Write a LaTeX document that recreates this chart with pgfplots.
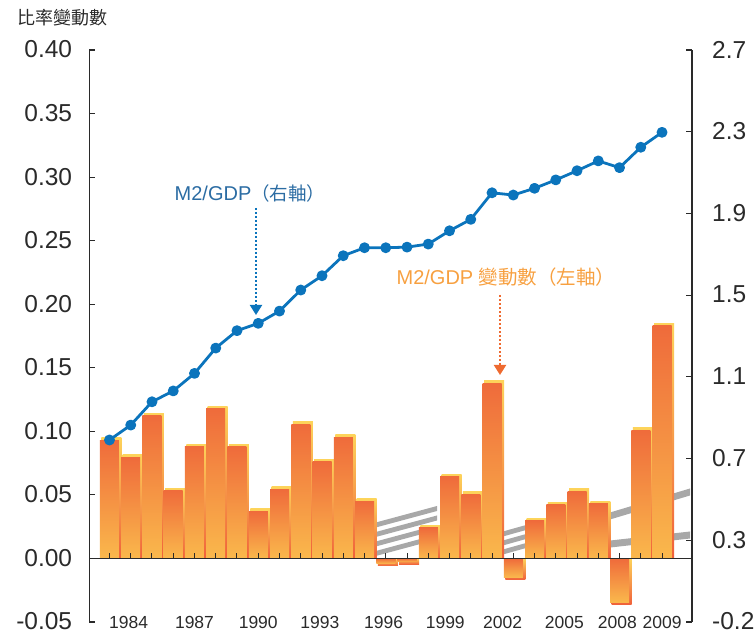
\documentclass[border=0pt]{standalone}
\usepackage{pgfplots}
\usepackage{pgfplotstable}
\pgfplotsset{compat=1.18}
\usetikzlibrary{arrows.meta}
\usepackage{fontspec}
\setmainfont{Liberation Sans}
\newfontfamily\cjk{Noto Sans CJK TC}
\definecolor{barTop}{HTML}{EF6B3B}
\definecolor{barBot}{HTML}{FAB84C}
\definecolor{sideTop}{HTML}{FDD35A}
\definecolor{sideBot}{HTML}{F0603A}
\definecolor{lineBlue}{HTML}{0B74BC}
\definecolor{txtBlue}{HTML}{2B6CA3}
\definecolor{txtOrange}{HTML}{F7A040}
\definecolor{arrOrange}{HTML}{EE6A30}
\definecolor{axisGray}{HTML}{2A2A2A}
\definecolor{bandGray}{HTML}{A8A8A8}

% decorative gray ribbon: pixel coords of reference (x, y from top)
\newcommand\band[5]{%
  \fill[bandGray] ({(#1-89.3)*1pt},{(622-#2+#5/2)*1pt}) -- ({(#3-89.3)*1pt},{(622-#4+#5/2)*1pt})
   -- ({(#3-89.3)*1pt},{(622-#4-#5/2)*1pt}) -- ({(#1-89.3)*1pt},{(622-#2-#5/2)*1pt}) -- cycle;}

% x = year - 1983
\pgfplotstableread{
x year v
0 1983 0.093
1 1984 0.0795
2 1985 0.1125
3 1986 0.0535
4 1987 0.088
5 1988 0.118
6 1989 0.088
7 1990 0.037
8 1991 0.0545
9 1992 0.1055
10 1993 0.076
11 1994 0.0955
12 1995 0.045
13 1996 -0.004
14 1997 -0.0027
15 1998 0.024
16 1999 0.0645
17 2000 0.0505
18 2001 0.138
19 2002 -0.015
20 2003 0.0295
21 2004 0.0425
22 2005 0.053
23 2006 0.043
24 2007 -0.0345
25 2008 0.101
26 2009 0.183
}\barsdata

\pgfplotstableread{
x year r
0 1983 0.791
1 1984 0.864
2 1985 0.978
3 1986 1.031
4 1987 1.117
5 1988 1.241
6 1989 1.326
7 1990 1.362
8 1991 1.422
9 1992 1.525
10 1993 1.595
11 1994 1.693
12 1995 1.732
13 1996 1.732
14 1997 1.735
15 1998 1.750
16 1999 1.815
17 2000 1.871
18 2001 2.001
19 2002 1.990
20 2003 2.023
21 2004 2.064
22 2005 2.109
23 2006 2.157
24 2007 2.124
25 2008 2.224
26 2009 2.297
}\linedata

\begin{document}
\begin{tikzpicture}
% background ribbons (decorative)
\band{365}{556.4}{437}{537}{5}
\band{365}{546.9}{437}{527.5}{5}
\band{365}{537.4}{437}{518}{5}
\band{365}{527.9}{437}{508.5}{5}
\band{490}{555.6}{560}{536}{5}
\band{490}{546.6}{560}{527}{5}
\band{490}{537.6}{560}{518}{5}
\band{575}{548}{690}{535}{7}
\band{575}{526.5}{690}{492}{7}
\begin{axis}[
  name=ax,
  at={(0,0)}, anchor=south west,
  scale only axis,
  width=602.7pt, height=572pt,
  xmin=-0.95, xmax=27.41,
  ymin=-0.05, ymax=0.40,
  axis y line*=left,
  axis x line*=bottom,
  x axis line style={draw=none},
  y axis line style={axisGray, line width=1.3pt},
  xtick={0.9,4.0,7.0,9.9,12.9,15.8,18.5,21.4,23.9,26.0},
  xticklabels={1984,1987,1990,1993,1996,1999,2002,2005,2008,2009},
  xtick style={draw=none},
  xticklabel style={anchor=center, inner sep=0pt, font=\fontsize{17.5}{20}\selectfont, text=axisGray},
  ytick={-0.05,0,0.05,0.10,0.15,0.20,0.25,0.30,0.35,0.40},
  yticklabels={-0.05,0.00,0.05,0.10,0.15,0.20,0.25,0.30,0.35,0.40},
  yticklabel style={anchor=east, inner sep=0pt, xshift=-17pt, yshift=0.5pt, font=\fontsize{24.5}{28}\selectfont, text=axisGray},
  tick align=inside,
  major tick length=6pt,
  ytick style={axisGray, line width=1.1pt},
  clip=false,
]
\pgfplotsinvokeforeach{0,...,26}{
  \addplot[ybar, bar width=20pt, bar shift=2pt, draw=none, top color=sideTop, bottom color=sideBot,
    restrict x to domain=#1:#1]
    table[x=x, y expr=\thisrow{v}+0.0019*sign(\thisrow{v})]{\barsdata};
  \addplot[ybar, bar width=19pt, bar shift=0pt, draw=none, top color=barTop, bottom color=barBot,
    restrict x to domain=#1:#1]
    table[x=x, y=v]{\barsdata};
}
\draw[axisGray, line width=1.4pt] (axis cs:-0.95,0) -- (axis cs:27.41,0);
\pgfplotsinvokeforeach{0,...,26}{
  \draw[axisGray, line width=1pt] (axis cs:#1,0) -- (axis cs:#1,0.004);
}
\end{axis}
\begin{axis}[
  at={(0,0)}, anchor=south west,
  scale only axis,
  width=602.7pt, height=572pt,
  xmin=-0.95, xmax=27.41,
  ymin=-0.1, ymax=2.7,
  hide x axis,
  axis y line*=right,
  y axis line style={axisGray, line width=1.3pt},
  ytick={-0.1,0.3,0.7,1.1,1.5,1.9,2.3,2.7},
  yticklabels={-0.2,0.3,0.7,1.1,1.5,1.9,2.3,2.7},
  yticklabel style={anchor=west, inner sep=0pt, xshift=20pt, yshift=0.5pt, font=\fontsize{24.5}{28}\selectfont, text=axisGray},
  tick align=inside,
  major tick length=6pt,
  ytick style={axisGray, line width=1.1pt},
  clip=false,
]
\addplot[lineBlue, line width=2.8pt, line join=round, mark=*, mark size=4pt, mark options={fill=lineBlue, draw=none}]
  table[x=x, y=r]{\linedata};
\end{axis}
% annotations
\node[anchor=west, text=axisGray, inner sep=0pt] at ([shift={(-72.3pt,604pt)}]ax.south west) {\cjk\fontsize{18}{20}\selectfont 比率變動數};
\node[text=txtBlue, inner sep=0pt] at ([shift={(160.7pt,429pt)}]ax.south west) {\fontsize{20}{24}\selectfont M2/GDP{\cjk\fontsize{18.5}{20}\selectfont （右軸）}};
\draw[lineBlue, line width=2pt, dash pattern=on 2pt off 2pt, -{Triangle[width=12pt,length=10pt]}] ([shift={(166.7pt,414pt)}]ax.south west) -- ([shift={(166.7pt,307pt)}]ax.south west);
\node[text=txtOrange, inner sep=0pt] at ([shift={(416.7pt,345pt)}]ax.south west) {\fontsize{20}{24}\selectfont M2/GDP {\cjk\fontsize{19.5}{22}\selectfont 變動數（左軸）}};
\draw[arrOrange, line width=2pt, dash pattern=on 2pt off 2pt, -{Triangle[width=12pt,length=10pt]}] ([shift={(410.7pt,327pt)}]ax.south west) -- ([shift={(410.7pt,247pt)}]ax.south west);
\pgfresetboundingbox
\path[use as bounding box] ([shift={(-89.3pt,-12pt)}]ax.south west) rectangle ++(755pt,634pt);
\end{tikzpicture}
\end{document}
